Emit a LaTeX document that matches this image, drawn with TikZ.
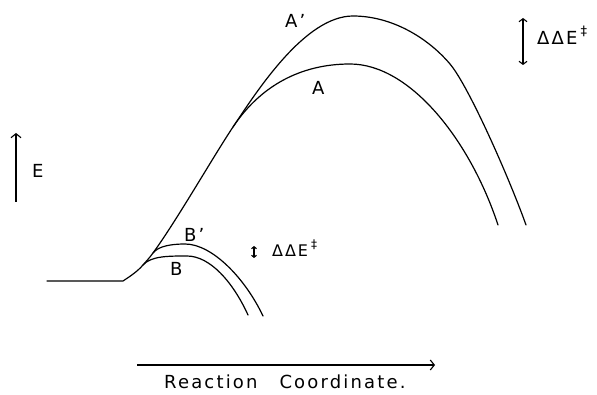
\documentclass[tikz,border=0pt]{standalone}
\usepackage{fontspec}
\setmainfont{DejaVu Sans}[LetterSpace=12]
\usetikzlibrary{arrows.meta}
\begin{document}
\begin{tikzpicture}[x=1pt,y=-1pt,
  curve/.style={line width=1.2pt, line cap=round, line join=round},
  lbl/.style={font=\fontsize{18}{18}\selectfont, inner sep=0pt, anchor=base west},
  barb/.style={line width=1.1pt, -{Straight Barb[length=4pt,width=10pt]}},
  dbarb/.style={line width=1.1pt, {Straight Barb[length=3pt,width=8pt]}-{Straight Barb[length=3pt,width=8pt]}},
  sbarb/.style={line width=1.1pt, {Straight Barb[length=2pt,width=5pt]}-{Straight Barb[length=2pt,width=5pt]}},
]
\useasboundingbox (0,0) rectangle (597,395);

% key points
\coordinate (start) at (47,281);
\coordinate (kink) at (123,281);
\coordinate (sB) at (143,265);
\coordinate (sBp) at (153,253);
\coordinate (sA) at (233,127);
\coordinate (pB) at (187,256);
\coordinate (pBp) at (185,244);
\coordinate (eB) at (248,315);
\coordinate (eBp) at (263,316);
\coordinate (pA) at (350,64);
\coordinate (pAp) at (353,16);
\coordinate (mAp) at (450,64);
\coordinate (eA) at (498,225);
\coordinate (eAp) at (526,225);

% common rising branch
\draw[curve] (start) -- (kink)
  .. controls (129,277) and (137,272) .. (sB)
  .. controls (146,261.5) and (149,258.5) .. (sBp)
  .. controls (177,220) and (213,157) .. (sA);
% B and B'
\draw[curve] (sB) .. controls (151,256) and (168,256) .. (pB)
  .. controls (210,256) and (233,282) .. (eB);
\draw[curve] (sBp) .. controls (158,246.5) and (170,244) .. (pBp)
  .. controls (212,244) and (245,278) .. (eBp);
% A and A'
\draw[curve] (sA) .. controls (260,86.5) and (300,64) .. (pA)
  .. controls (410,64) and (470,140) .. (eA);
\draw[curve] (sA) .. controls (257,91) and (305,16) .. (pAp)
  .. controls (392,16) and (428,38) .. (mAp)
  .. controls (469,86.5) and (510,180) .. (eAp);

% labels on curves
\node[lbl] (lA) at (312,95) {A};
\node[lbl] (lAp) at (285,28) {A’};
\node[lbl] (lB) at (170,276) {B};
\node[lbl] (lBp) at (184,242) {B'};

% energy axis
\coordinate (E0) at (16,202);
\coordinate (E1) at (16,133);
\draw[barb] (E0) -- (E1);
\node[lbl] (lE) at (32,178) {E};

% reaction coordinate axis
\coordinate (R0) at (137,365);
\coordinate (R1) at (435,365);
\draw[barb] (R0) -- (R1);
\node[lbl] (lR) at (164,388) {Reaction\hspace{22pt}Coordinate.};

% Delta Delta E (top)
\coordinate (D0) at (523,18);
\coordinate (D1) at (523,65);
\draw[dbarb] (D0) -- (D1);
\node[lbl] (lD) at (537,45) {ΔΔE\hspace{3pt}\raisebox{9pt}{\fontsize{13}{13}\selectfont ‡}};

% Delta Delta E (small)
\coordinate (d0) at (254,246);
\coordinate (d1) at (254,258);
\draw[sbarb] (d0) -- (d1);
\node[lbl, font=\fontsize{16}{16}\selectfont] (ld) at (272,257) {ΔΔE\hspace{3pt}\raisebox{8pt}{\fontsize{12}{12}\selectfont ‡}};
\end{tikzpicture}
\end{document}
